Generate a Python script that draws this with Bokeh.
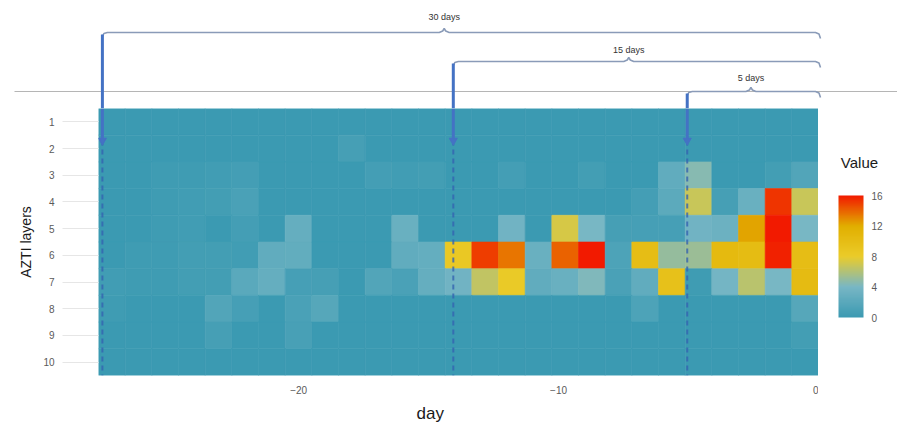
import numpy as np
from bokeh.plotting import figure
from bokeh.models import (ColumnDataSource, LinearColorMapper, ColorBar,
                          FixedTicker, Range1d, Title)
from bokeh.layouts import column, row
from bokeh.embed import file_html
from bokeh.resources import INLINE
from bokeh.core.properties import value

# ---- data ---------------------------------------------------------------
LAYERS = [1, 2, 3, 4, 5, 6, 7, 8, 9, 10]
DAY_FIRST = -27.7          # left edge of the first day bin
DAY_LAST = 0.0             # right edge of the last day bin
N_BINS = 27

# one list per AZTI layer, one value per day bin (oldest -> newest)
L1 = [0, 0, 0, 0, 0, 0, 0, 0, 0, 0, 0, 0, 0, 0, 0, 0, 0, 0, 0, 0, 0, 0, 0, 0, 0, 0, 0]
L2 = [0, 0, 0, 0, 0, 0, 0, 0, 0, 0.7, 0, 0, 0, 0, 0, 0, 0, 0, 0, 0, 0, 0, 0, 0, 0, 0, 0]
L3 = [0, 0, 0.3, 0.3, 0.4, 0.6, 0, 0, 0, 0, 0.6, 0.4, 0.5, 0, 0, 0.6, 0, 0, 0.5, 0, 0, 2.5, 4.5, 0, 0, 0.5, 1.5]
L4 = [0, 0, 0.3, 0.4, 0.5, 1.0, 0, 0, 0, 0, 0, 0, 0, 0, 0, 0, 0, 0, 0, 0, 0.6, 2.2, 6.8, 0.7, 3.0, 15.3, 6.8]
L5 = [0, 0, 0.3, 0.4, 0, 0.6, 0, 2.8, 0, 0, 0, 3.0, 0, 0, 0, 3.5, 0, 7.3, 4.0, 0.7, 0.8, 0.8, 3.5, 3.2, 12.3, 16.0, 4.0]
L6 = [0, 0.3, 0.3, 0.5, 0.5, 0.4, 2.5, 2.6, 0, 0, 0, 2.5, 2.7, 8.5, 15.0, 13.5, 3.0, 14.0, 16.0, 1.2, 10.0, 5.0, 5.2, 10.5, 10.2, 15.8, 10.0]
L7 = [0.4, 0.3, 0.3, 0.5, 0.5, 2.0, 2.8, 0.8, 0.7, 0, 1.5, 1.0, 2.8, 3.5, 6.5, 8.3, 2.5, 3.0, 4.3, 1.0, 2.5, 9.5, 0.3, 3.8, 6.3, 4.0, 10.3]
L8 = [0.3, 0, 0, 0, 1.5, 0.8, 0, 1.0, 1.8, 0, 0, 0, 0, 0, 0, 0, 0, 0, 0, 0, 1.2, 0, 0, 0, 0, 0, 1.8]
L9 = [0, 0, 0, 0, 0.7, 0, 0, 0.9, 0, 0, 0, 0, 0, 0, 0, 0, 0, 0, 0, 0, 0, 0, 0, 0, 0, 0, 0.5]
L10 = [0, 0, 0, 0, 0, 0, 0, 0, 0, 0, 0, 0, 0, 0, 0, 0, 0, 0, 0, 0, 0, 0, 0, 0, 0, 0, 0]

X_TICKS = [-20, -10, 0]
VALUE_TICKS = [0, 4, 8, 12, 16]
VALUE_MAX = 16

# look-back windows marked above the heatmap
WINDOW_LABELS = ["30 days", "15 days", "5 days"]
WINDOW_STARTS = [-27.55, -14.05, -5.05]
WINDOW_LABEL_AT = [-14.4, -7.3, -2.6]

# ---- styling ------------------------------------------------------------
FONT = "Liberation Sans"
ZISSOU = ["#3B9AB2", "#78B7C5", "#EBCC2A", "#E1AF00", "#F21A00"]
ARROW_BLUE = "#4472C4"
BRACE_COLOR = "#8A9BB8"

W, TOP_H, HM_H = 897, 108, 321
LEFT, RIGHT, BOTTOM = 98, 79, 54
FRAME_H = HM_H - BOTTOM


def ramp(hexes, n):
    rgb = np.array([[int(h[i:i + 2], 16) for i in (1, 3, 5)] for h in hexes], float)
    pos = np.linspace(0, 1, len(hexes))
    out = []
    for t in np.linspace(0, 1, n):
        c = [int(round(np.interp(t, pos, rgb[:, k]))) for k in range(3)]
        out.append("#%02x%02x%02x" % tuple(c))
    return out


palette = ramp(ZISSOU, 256)
mapper = LinearColorMapper(palette=palette, low=0, high=VALUE_MAX)


def clean(fig):
    fig.outline_line_color = None
    fig.grid.visible = False
    fig.background_fill_color = "white"
    fig.border_fill_color = "white"


# ---- heatmap ------------------------------------------------------------
layers = [L1, L2, L3, L4, L5, L6, L7, L8, L9, L10]
edges = np.linspace(DAY_FIRST, DAY_LAST, N_BINS + 1)
centers = (edges[:-1] + edges[1:]) / 2
bin_w = edges[1] - edges[0]

xs, ys, vs = [], [], []
for layer, vals in zip(LAYERS, layers):
    for c, v in zip(centers, vals):
        xs.append(c)
        ys.append(layer)
        vs.append(v)
src = ColumnDataSource(dict(x=xs, y=ys, v=vs))

hm = figure(width=W - RIGHT, height=HM_H,
            x_range=Range1d(DAY_FIRST, DAY_LAST), y_range=Range1d(10.5, 0.5),
            output_backend="svg", toolbar_location=None,
            min_border_left=LEFT, min_border_right=0,
            min_border_top=0, min_border_bottom=BOTTOM)
clean(hm)

hm.rect(x="x", y="y", width=bin_w, height=1, source=src,
        fill_color={"field": "v", "transform": mapper},
        line_color={"field": "v", "transform": mapper}, line_width=0.6)

# window markers continuing down through the heatmap
ARROW_END = 1.7
for ws in WINDOW_STARTS:
    hm.line([ws, ws], [0.5, ARROW_END], line_color=ARROW_BLUE, line_width=3)
    hm.line([ws, ws], [ARROW_END, 10.5], line_color="#3563B0", line_width=2,
            line_dash="5 4", line_alpha=0.8)
hm.scatter(WINDOW_STARTS, [ARROW_END] * len(WINDOW_STARTS),
           marker="inverted_triangle", size=8, color=ARROW_BLUE)

# axes
yax = hm.yaxis[0]
yax.ticker = FixedTicker(ticks=LAYERS)
yax.major_tick_out = 36
yax.major_tick_in = 0
yax.major_tick_line_color = "#e6e6e6"
yax.minor_tick_line_color = None
yax.axis_line_color = None
yax.major_label_standoff = 8
yax.major_label_text_font = FONT
yax.major_label_text_font_size = "10px"
yax.major_label_text_color = "#5a5a5a"
yax.axis_label = "AZTI layers"
yax.axis_label_text_font = FONT
yax.axis_label_text_font_size = "14px"
yax.axis_label_text_font_style = "normal"
yax.axis_label_text_color = "#1a1a1a"
yax.axis_label_standoff = 6

xax = hm.xaxis[0]
xax.ticker = FixedTicker(ticks=X_TICKS)
xax.major_tick_out = 0
xax.major_tick_in = 0
xax.major_tick_line_color = None
xax.minor_tick_line_color = None
xax.axis_line_color = None
xax.major_label_standoff = 10
xax.major_label_text_font = FONT
xax.major_label_text_font_size = "10px"
xax.major_label_text_color = "#5a5a5a"

hm.add_layout(Title(text="day", align="left", offset=318,
                    text_font=FONT, text_font_size="17px",
                    text_font_style="normal", text_color="#1a1a1a"), "below")

# ---- colour legend ------------------------------------------------------
leg = figure(width=RIGHT, height=HM_H, x_range=Range1d(0, RIGHT),
             y_range=Range1d(FRAME_H, 0), output_backend="svg",
             toolbar_location=None, min_border_left=0, min_border_right=0,
             min_border_top=0, min_border_bottom=BOTTOM,
             x_axis_location=None, y_axis_location=None)
clean(leg)
leg.text(x=[41], y=[54], text=["Value"], text_align="center",
         text_baseline="middle", text_font=value(FONT),
         text_font_size="15px", text_color="#1a1a1a")

cb = ColorBar(color_mapper=mapper, ticker=FixedTicker(ticks=VALUE_TICKS),
              width=25, height=122,
              major_label_text_font=FONT, major_label_text_font_size="10px",
              major_label_text_color="#5a5a5a",
              major_tick_line_color=None, bar_line_color=None,
              label_standoff=8, padding=6, location=(14, 52),
              background_fill_color=None, border_line_color=None)
leg.add_layout(cb, "center")

# ---- annotation strip above ---------------------------------------------
ppd = (W - LEFT - RIGHT) / (DAY_LAST - DAY_FIRST)     # pixels per day
tx0 = DAY_FIRST - LEFT / ppd
tx1 = DAY_LAST + RIGHT / ppd
top = figure(width=W, height=TOP_H, x_range=Range1d(tx0, tx1),
             y_range=Range1d(TOP_H, 0), output_backend="svg",
             toolbar_location=None, min_border=0,
             x_axis_location=None, y_axis_location=None)
clean(top)

# thin separator rule
top.line([tx0 + 14 / ppd, tx1], [91, 91], line_color="#b5b5b5", line_width=1)

BRACE_Y = [32, 61, 91]
LABEL_Y = [16, 49, 77]
brace_end = DAY_LAST + 2 / ppd
d = 5 / ppd
for ws, xm, yb in zip(WINDOW_STARTS, WINDOW_LABEL_AT, BRACE_Y):
    bx = [ws, ws + 0.3 * d, ws + d, xm - d, xm - 0.3 * d, xm,
          xm + 0.3 * d, xm + d, brace_end - d, brace_end - 0.3 * d, brace_end]
    by = [yb + 4, yb + 1, yb, yb, yb - 1.5, yb - 4,
          yb - 1.5, yb, yb, yb + 1.5, yb + 6]
    top.line(bx, by, line_color=BRACE_COLOR, line_width=1.6)
    top.line([ws, ws], [yb + 2, TOP_H], line_color=ARROW_BLUE, line_width=3)

top.text(x=WINDOW_LABEL_AT, y=LABEL_Y, text=WINDOW_LABELS,
         text_align="center", text_baseline="middle",
         text_font=value(FONT), text_font_size="9px", text_color="#333333")

layout = column(top, row(hm, leg, spacing=0), spacing=0)
open("out.html", "w").write(file_html(layout, INLINE))
